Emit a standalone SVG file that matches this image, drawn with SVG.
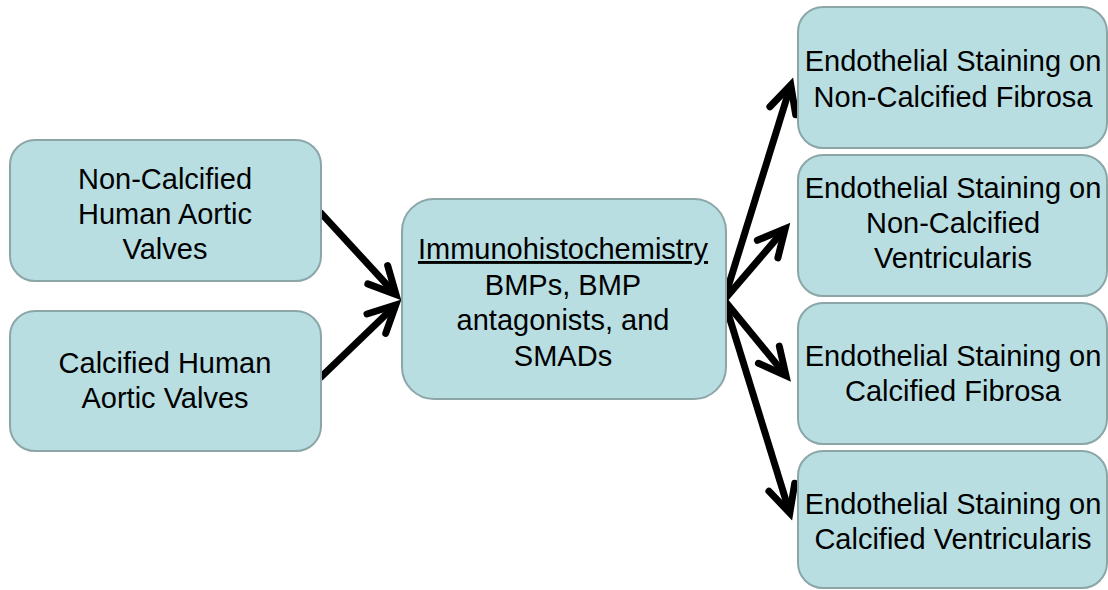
<svg xmlns="http://www.w3.org/2000/svg" width="1108" height="590" viewBox="0 0 1108 590">
<defs>
<style>
.box{fill:#b8dee2;stroke:#8ca6a8;stroke-width:2}
.t{font-family:"Liberation Sans",Arial,sans-serif;font-size:29px;fill:#000;text-anchor:middle}
.c{stroke:#000;stroke-width:7;fill:none;marker-end:url(#ah)}
</style>
<marker id="ah" markerUnits="userSpaceOnUse" orient="auto" refX="0" refY="0" markerWidth="60" markerHeight="60" overflow="visible">
<path d="M -27 -13.5 L 0 0 L -27 13.5" fill="none" stroke="#000" stroke-width="7" stroke-linecap="round" stroke-linejoin="miter"/>
</marker>
</defs>
<rect width="1108" height="590" fill="#fff"/>
<g id="connectors">
<line class="c" x1="320" y1="212" x2="396" y2="294.6"/>
<line class="c" x1="320" y1="378" x2="395.8" y2="305"/>
<line class="c" x1="724" y1="300" x2="790.8" y2="85"/>
<line class="c" x1="724" y1="300" x2="785.2" y2="228.6"/>
<line class="c" x1="724" y1="300" x2="786" y2="375.6"/>
<line class="c" x1="724" y1="300" x2="789.8" y2="513"/>
</g>
<g id="n1">
<rect class="box" x="10" y="140" width="311" height="141" rx="25"/>
<text class="t" x="165" y="188.5">Non-Calcified</text>
<text class="t" x="165" y="223.5">Human Aortic</text>
<text class="t" x="165" y="258.5">Valves</text>
</g>
<g id="n2">
<rect class="box" x="10" y="311" width="311" height="140" rx="25"/>
<text class="t" x="165" y="372.5">Calcified Human</text>
<text class="t" x="165" y="407.5">Aortic Valves</text>
</g>
<g id="n3">
<rect class="box" x="402" y="199" width="324" height="200" rx="32"/>
<text class="t" x="563" y="259" text-decoration="underline">Immunohistochemistry</text>
<text class="t" x="563" y="295">BMPs, BMP</text>
<text class="t" x="563" y="330">antagonists, and</text>
<text class="t" x="563" y="366">SMADs</text>
</g>
<g id="n4">
<rect class="box" x="798" y="7" width="309" height="141" rx="25"/>
<text class="t" x="953" y="70.5">Endothelial Staining on</text>
<text class="t" x="953" y="106.5">Non-Calcified Fibrosa</text>
</g>
<g id="n5">
<rect class="box" x="798" y="155" width="309" height="141" rx="25"/>
<text class="t" x="953" y="197.5">Endothelial Staining on</text>
<text class="t" x="953" y="232.5">Non-Calcified</text>
<text class="t" x="953" y="267.5">Ventricularis</text>
</g>
<g id="n6">
<rect class="box" x="798" y="303" width="309" height="141" rx="25"/>
<text class="t" x="953" y="365.5">Endothelial Staining on</text>
<text class="t" x="953" y="400.5">Calcified Fibrosa</text>
</g>
<g id="n7">
<rect class="box" x="798" y="451" width="309" height="137" rx="25"/>
<text class="t" x="953" y="513.5">Endothelial Staining on</text>
<text class="t" x="953" y="548.5">Calcified Ventricularis</text>
</g>
</svg>
